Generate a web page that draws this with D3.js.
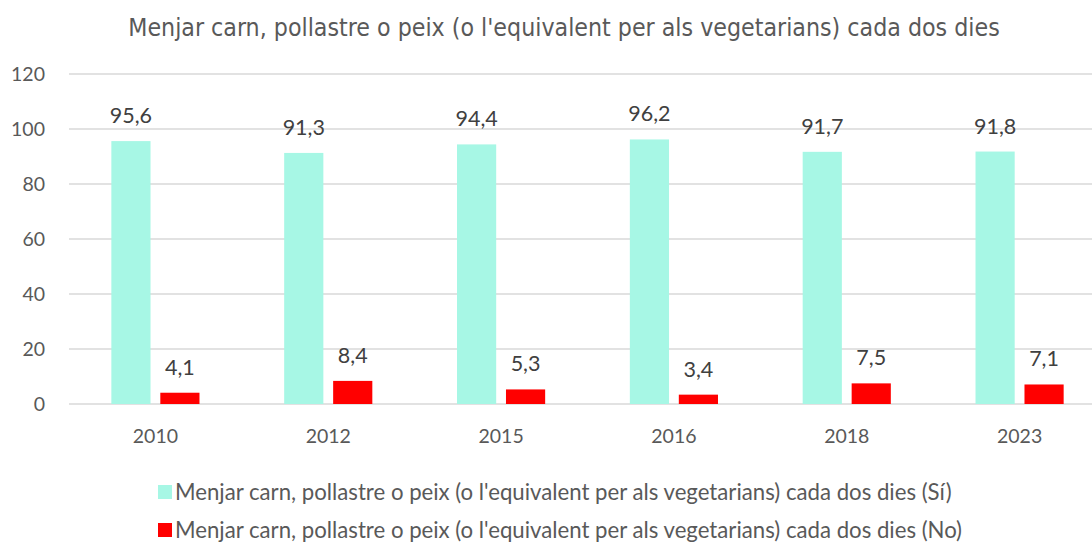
<!DOCTYPE html>
<html>
<head>
<meta charset="utf-8">
<script src="https://cdn.jsdelivr.net/npm/d3@7"></script>
<style>
  body { margin: 0; background: #fff; }
  .container { width: 1092px; height: 545px; }
</style>
</head>
<body>
<div class="container"></div>
<script>
const wd = 1092
const ht = 545

// data
const years = ["2010", "2012", "2015", "2016", "2018", "2023"]
const siValues = [95.6, 91.3, 94.4, 96.2, 91.7, 91.8]
const noValues = [4.1, 8.4, 5.3, 3.4, 7.5, 7.1]
const seriesNames = [
  "Menjar carn, pollastre o peix (o l'equivalent per als vegetarians) cada dos dies (Sí)",
  "Menjar carn, pollastre o peix (o l'equivalent per als vegetarians) cada dos dies (No)"
]
const seriesColors = ["#a7f7e5", "#ff0000"]
const yTicks = [0, 20, 40, 60, 80, 100, 120]
const title = "Menjar carn, pollastre o peix (o l'equivalent per als vegetarians) cada dos dies"

const rows = years.map((y, i) => ({ year: y, vals: [siValues[i], noValues[i]] }))

const svgC = d3.select(".container")
  .append("svg")
  .attr("width", wd)
  .attr("height", ht)

const textCol = "#595959"

const x0 = d3.scaleBand()
  .domain(years)
  .range([69, 1106])
  .paddingInner(0.49)
  .paddingOuter(0.245)

const x1 = d3.scaleBand()
  .domain([0, 1])
  .range([0, x0.bandwidth()])
  .paddingInner(0.2)

const yScale = d3.scaleLinear()
  .domain([0, 120])
  .range([404, 74])

// gridlines
svgC.append("g")
  .selectAll("line")
  .data(yTicks)
  .join("line")
  .attr("x1", 69)
  .attr("x2", wd)
  .attr("y1", d => yScale(d))
  .attr("y2", d => yScale(d))
  .style("stroke", "#d9d9d9")
  .style("stroke-width", 1.5)

// y tick labels
svgC.append("g")
  .selectAll("text")
  .data(yTicks)
  .join("text")
  .attr("x", 45)
  .attr("y", d => yScale(d))
  .attr("dy", "0.35em")
  .attr("text-anchor", "end")
  .style("font-family", "Lato, 'Open Sans', sans-serif")
  .style("font-size", "19.5px")
  .style("fill", textCol)
  .text(d => d)

// bars
const groups = svgC.append("g")
  .selectAll("g")
  .data(rows)
  .join("g")
  .attr("transform", d => "translate(" + x0(d.year) + ",0)")

groups.selectAll("rect")
  .data(d => d.vals.map((v, k) => ({ k: k, v: v })))
  .join("rect")
  .attr("x", d => x1(d.k))
  .attr("width", x1.bandwidth())
  .attr("y", d => yScale(d.v))
  .attr("height", d => yScale(0) - yScale(d.v))
  .style("fill", d => seriesColors[d.k])

groups.selectAll("text")
  .data(d => d.vals.map((v, k) => ({ k: k, v: v })))
  .join("text")
  .attr("x", d => x1(d.k) + x1.bandwidth() / 2)
  .attr("y", d => yScale(d.v) - 18)
  .attr("text-anchor", "middle")
  .style("font-family", "Lato, 'Open Sans', sans-serif")
  .style("font-size", "21.5px")
  .style("fill", "#404040")
  .text(d => d3.format(".1f")(d.v).replace(".", ","))

// x labels
svgC.append("g")
  .selectAll("text")
  .data(years)
  .join("text")
  .attr("x", d => x0(d) + x0.bandwidth() / 2)
  .attr("y", 443)
  .attr("text-anchor", "middle")
  .style("font-family", "Lato, 'Open Sans', sans-serif")
  .style("font-size", "19.5px")
  .style("fill", textCol)
  .text(d => d)

// title
svgC.append("text")
  .attr("x", 564)
  .attr("y", 36)
  .attr("text-anchor", "middle")
  .style("font-family", "'Liberation Sans Narrow', 'DejaVu Sans Condensed', sans-serif")
  .style("font-size", "24.7px")
  .style("fill", textCol)
  .text(title)

// legend
const legend = svgC.append("g")
  .selectAll("g")
  .data(seriesNames)
  .join("g")
  .attr("transform", (d, i) => "translate(158," + (492 + i * 38) + ")")

legend.append("rect")
  .attr("x", 0)
  .attr("y", -7)
  .attr("width", 14)
  .attr("height", 14)
  .style("fill", (d, i) => seriesColors[i])

legend.append("text")
  .attr("x", 17)
  .attr("y", 0)
  .attr("dy", "0.35em")
  .style("font-family", "Lato, 'Open Sans', sans-serif")
  .style("font-size", "22.2px")
  .style("fill", textCol)
  .text(d => d)
</script>
</body>
</html>
